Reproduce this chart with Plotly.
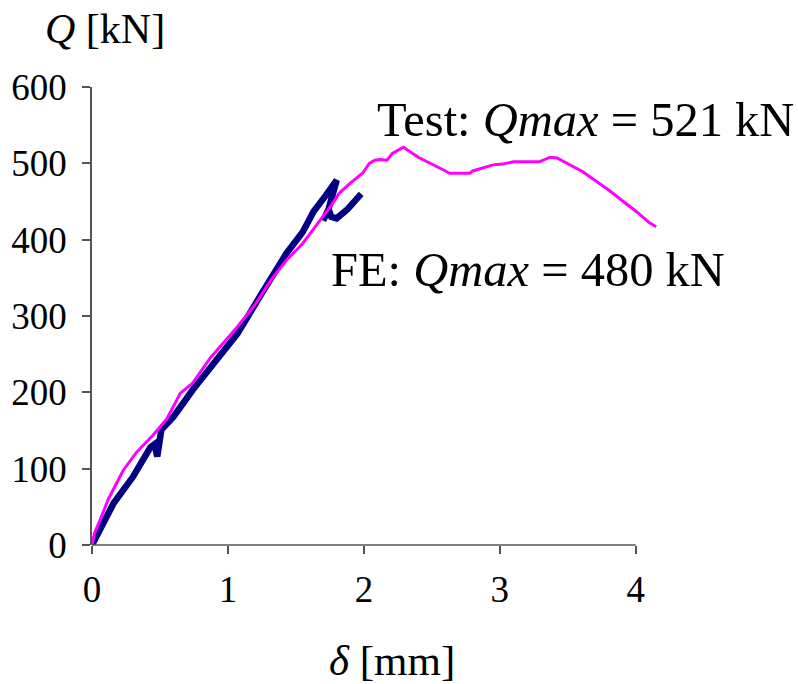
import plotly.graph_objects as go

# Test curve (magenta)
test_delta = [0, 0.02, 0.06, 0.12, 0.23, 0.33, 0.45, 0.55, 0.65, 0.74, 0.87, 1.0, 1.07, 1.2, 1.32,
              1.43, 1.55, 1.68, 1.76, 1.82, 1.90, 1.99, 2.04, 2.08, 2.12, 2.17, 2.21, 2.26, 2.29,
              2.40, 2.54, 2.60, 2.63, 2.78, 2.80, 2.95, 3.02, 3.10, 3.29, 3.37, 3.42, 3.61, 3.80,
              4.01, 4.10, 4.15]
test_Q = [0, 16, 33, 60, 98, 122, 144, 165, 199, 212, 245, 272, 286, 315, 348,
          373, 395, 426, 445, 461, 474, 487, 500, 504, 505, 504, 513, 518, 521,
          508, 496, 490, 487, 487, 490, 498, 499, 502, 502, 508, 507, 489, 465,
          436, 422, 417]

# FE curve (navy)
fe_delta = [0, 0.05, 0.16, 0.30, 0.43, 0.46, 0.48, 0.51, 0.60, 0.74, 0.90, 1.07, 1.25, 1.43,
            1.55, 1.63, 1.72, 1.80, 1.74, 1.70, 1.74, 1.76, 1.80, 1.88, 1.98]
fe_Q = [0, 18, 55, 89, 128, 132, 116, 151, 168, 203, 240, 277, 330, 382,
        410, 437, 458, 478, 440, 425, 440, 430, 428, 440, 460]

x_ticks = [0, 1, 2, 3, 4]
y_ticks = [0, 100, 200, 300, 400, 500, 600]

FONT = "Liberation Serif"
AXC = "#555555"

fig = go.Figure()
fig.add_trace(go.Scatter(x=fe_delta, y=fe_Q, mode="lines",
                         line=dict(color="#000080", width=6.5)))
fig.add_trace(go.Scatter(x=test_delta, y=test_Q, mode="lines",
                         line=dict(color="#FF00FF", width=3)))

axis_common = dict(showgrid=False, zeroline=False, automargin=False,
                   ticks="outside", ticklen=8, tickcolor=AXC,
                   tickwidth=1.5, tickfont=dict(family=FONT, size=37, color="black"))
# x range extends a little past 4 so the test curve is not cut; the axis line stops at 4
fig.update_xaxes(range=[0, 4.2], tickvals=x_ticks, ticktext=[str(v) for v in x_ticks],
                 showline=False, ticklabelstandoff=4, **axis_common)
fig.update_yaxes(range=[0, 600], tickvals=y_ticks, ticktext=[str(v) for v in y_ticks],
                 showline=True, linecolor=AXC, linewidth=1.5, ticklabelstandoff=8,
                 **axis_common)
fig.add_shape(type="line", xref="x", yref="paper", x0=0, x1=4, y0=0, y1=0,
              line=dict(color=AXC, width=1.5))

fig.add_annotation(xref="paper", yref="paper", x=0.0, y=1.0, xshift=13, yshift=58,
                   text="<i>Q</i> [kN]", showarrow=False, xanchor="center", yanchor="middle",
                   font=dict(family=FONT, size=42, color="black"))
fig.add_annotation(xref="x", yref="paper", x=2.21, y=0, yshift=-115,
                   text="<i>δ</i> [mm]", showarrow=False, xanchor="center", yanchor="middle",
                   font=dict(family=FONT, size=43, color="black"))
fig.add_annotation(x=2.08, y=557, text="Test: <i>Qmax</i> = 521 kN", showarrow=False,
                   xanchor="left", yanchor="middle",
                   font=dict(family=FONT, size=48.5, color="black"))
fig.add_annotation(x=1.74, y=361, text="FE: <i>Qmax</i> = 480 kN", showarrow=False,
                   xanchor="left", yanchor="middle",
                   font=dict(family=FONT, size=48.5, color="black"))

fig.update_layout(width=798, height=684, margin=dict(l=92, r=135, t=87, b=139),
                  paper_bgcolor="white", plot_bgcolor="white", showlegend=False)

fig.write_html("out.html")
